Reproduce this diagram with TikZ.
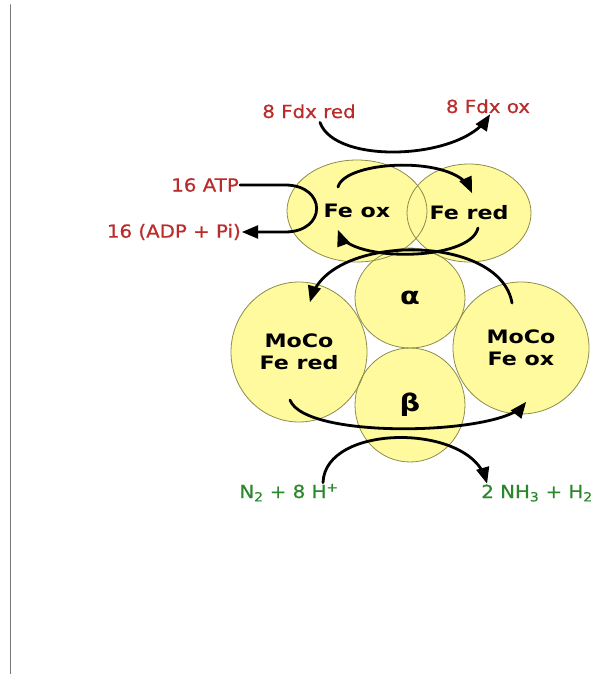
\documentclass[tikz,border=0pt]{standalone}
\usepackage{fontspec}
\setmainfont{DejaVu Sans}[FakeStretch=1.2]
\newfontfamily\lblfont{DejaVu Sans}[FakeStretch=1.1,FakeBold=0.6]
\usepackage{tikz}
\usetikzlibrary{arrows,shapes.geometric}
\definecolor{fffzzy}{rgb}{1,0.98,0.62}
\definecolor{yyyyvq}{rgb}{0.55,0.55,0.3}
\definecolor{btsysy}{rgb}{0.73,0.17,0.17}
\definecolor{sxyzsx}{rgb}{0.17,0.53,0.17}
\definecolor{xxxxxx}{rgb}{0.47,0.47,0.47}
\newcommand{\greek}[1]{{\fontsize{24}{24}\selectfont #1}}
\def\subunits{alpha/410/298/55/50/{\greek{α}}, beta/410/405/55/57/{\greek{β}},
  mocol/299/352/68/70/{MoCo\\Fe red}, mocor/521/348/68/66/{MoCo\\Fe ox},
  feox/357/211/70/51/{Fe ox}, fered/469/213/62/49/{Fe red}}

\begin{document}
\begin{tikzpicture}[line cap=round,line join=round,>=triangle 45,x=1pt,y=-1pt,
    sub/.style={ellipse,fill=fffzzy,inner sep=0pt,align=center,font=\fontsize{18.5}{22}\selectfont\bfseries},
    rim/.style={color=yyyyvq,line width=0.8pt},
    lbl/.style={inner sep=1pt,font=\fontsize{18}{21}\lblfont},
    flow/.style={->,line width=2.8pt}]
    \useasboundingbox (0,0) rectangle (596,674);
    \draw [color=xxxxxx,line width=1.8pt] (10.5,5)-- (10.5,674);
    % protein subunits
    \foreach \n/\px/\py/\rx/\ry/\t in \subunits
      \node [sub,minimum width=2*\rx pt,minimum height=2*\ry pt] (\n) at (\px,\py) {\t};
    \foreach \n/\px/\py/\rx/\ry/\t in \subunits
      \draw [rim] (\n.center) ellipse (\rx pt and \ry pt);
    % labels
    \node [lbl,color=btsysy,anchor=base] (fdxred) at (309,118) {8 Fdx red};
    \node [lbl,color=btsysy,anchor=base] (fdxox) at (488,113) {8 Fdx ox};
    \node [lbl,color=btsysy,anchor=east] (atp) at (240,185) {16 ATP};
    \node [lbl,color=btsysy,anchor=east] (adp) at (242,232) {16 (ADP + Pi)};
    \node [lbl,color=sxyzsx,anchor=base] (ntwo) at (289,498) {N\textsubscript{2} + 8 H\textsuperscript{+}};
    \node [lbl,color=sxyzsx,anchor=base] (nhthree) at (537,498) {2 NH\textsubscript{3} + H\textsubscript{2}};
    \coordinate (ta) at (338,187);
    \coordinate (tb) at (472,193);
    \coordinate (ma) at (478,228);
    \coordinate (mb) at (338,230);
    \coordinate (ra) at (512,303);
    \coordinate (rb) at (310,302);
    \coordinate (la) at (290,400);
    \coordinate (lb) at (526,402);
    % electron and substrate flow
    \draw [flow] ([xshift=11pt,yshift=-3pt]fdxred.south) .. controls (335,165) and (460,160) .. ([xshift=2pt]fdxox.south);
    \draw [flow] (ta) .. controls (345,160) and (455,155) .. (tb);
    \draw [flow] (ma) .. controls (470,262) and (350,262) .. (mb);
    \draw [flow] (ra) .. controls (500,233) and (330,233) .. (rb);
    \draw [flow] (la) .. controls (305,440) and (500,435) .. (lb);
    \draw [flow] ([xshift=34pt]ntwo.north) .. controls (325,423) and (470,423) .. ([xshift=-50pt]nhthree.north);
    \draw [flow] (atp.east) -- ++(45,0) to [out=0,in=0,looseness=2.3] ++(0,47) -- (adp.east);
\end{tikzpicture}
\end{document}
